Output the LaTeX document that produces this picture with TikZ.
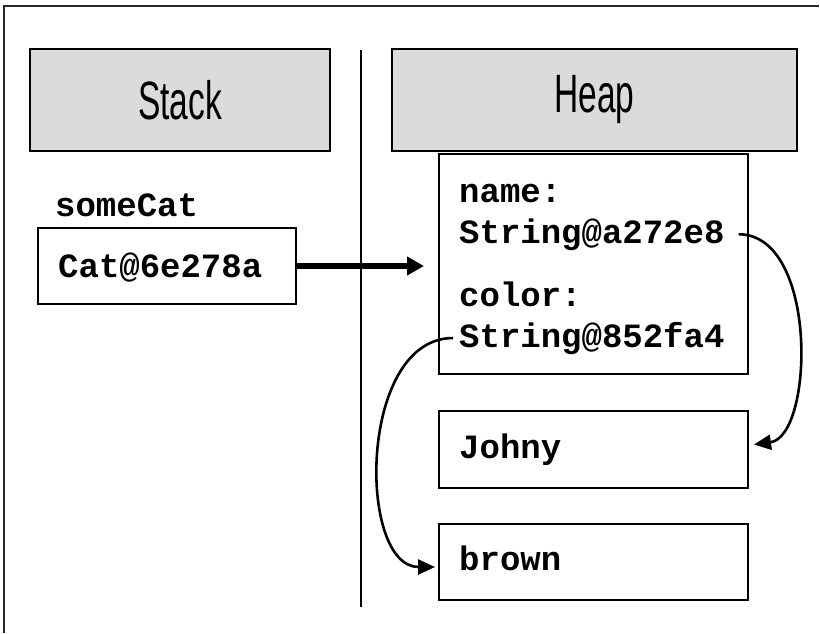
\documentclass[tikz,border=0pt]{standalone}
\usepackage{fontspec}
\setmonofont{Liberation Mono}
\newfontfamily\headfont{Liberation Sans}[FakeStretch=0.62]
\usepackage{tikz}
\usetikzlibrary{arrows.meta,positioning}

\begin{document}
\begin{tikzpicture}[x=1pt, y=-1pt,
  head/.style={draw, line width=2pt, fill=black!14, font=\headfont\fontsize{54}{60}\selectfont, minimum height=102pt, inner sep=0pt},
  cell/.style={draw, line width=2pt, minimum width=309pt, inner sep=0pt},
  val/.style={font=\ttfamily\bfseries\fontsize{34}{40}\selectfont, anchor=base west, inner sep=0pt},
  ptr/.style={-{Triangle[length=17pt,width=18pt]}, line width=5.5pt},
  ref/.style={-{Triangle[length=17pt,width=15pt]}, line width=2.6pt}
]
\useasboundingbox (0,0) rectangle (820,633);
% frame
\draw[line width=2pt, black!85] (819,6) -- (4,6) -- (4,633);

% Headers
\node[head, minimum width=300pt] (stack) at (180,100) {Stack};
\node[head, minimum width=405pt] (heap)  at (594.5,100) {Heap};

% Divider
\coordinate (divtop) at (361,50);
\coordinate (divbot) at (361,607);
\draw[line width=2pt] (divtop) -- (divbot);

% Stack side
\node[val] (varname) at (55,216) {someCat};
\node[draw, line width=2pt, minimum width=258pt, minimum height=76pt] (cat) at (167,266) {};
\node[val] (catref) at (58,277) {Cat@6e278a};

% Heap side
\node[cell, minimum height=220pt] (obj)   at (593.5,264)   {};
\node[cell, minimum height=77pt]  (johny) at (593.5,449.5) {};
\node[cell, minimum height=76pt]  (brown) at (593.5,562)   {};

\node[val] (namelbl)  at (459,202) {name:};
\node[val] (nameref)  at (459,243) {String@a272e8};
\node[val] (colorlbl) at (459,306) {color:};
\node[val] (colorref) at (459,347) {String@852fa4};
\node[val] (johnytxt) at (459,458) {Johny};
\node[val] (browntxt) at (459,570) {brown};

% References
\draw[ptr, shorten >=14pt] (cat.east) -- (cat.east -| obj.west);
\draw[ref] ([xshift=14pt]nameref.east) .. controls +(80,0) and +(60,-8) .. ([xshift=5pt,yshift=5pt]johny.east);
\draw[ref] ([xshift=-6pt]colorref.west) .. controls +(-95,0) and +(-78,0) .. ([xshift=-3pt,yshift=-5pt]brown.west);
\end{tikzpicture}
\end{document}
